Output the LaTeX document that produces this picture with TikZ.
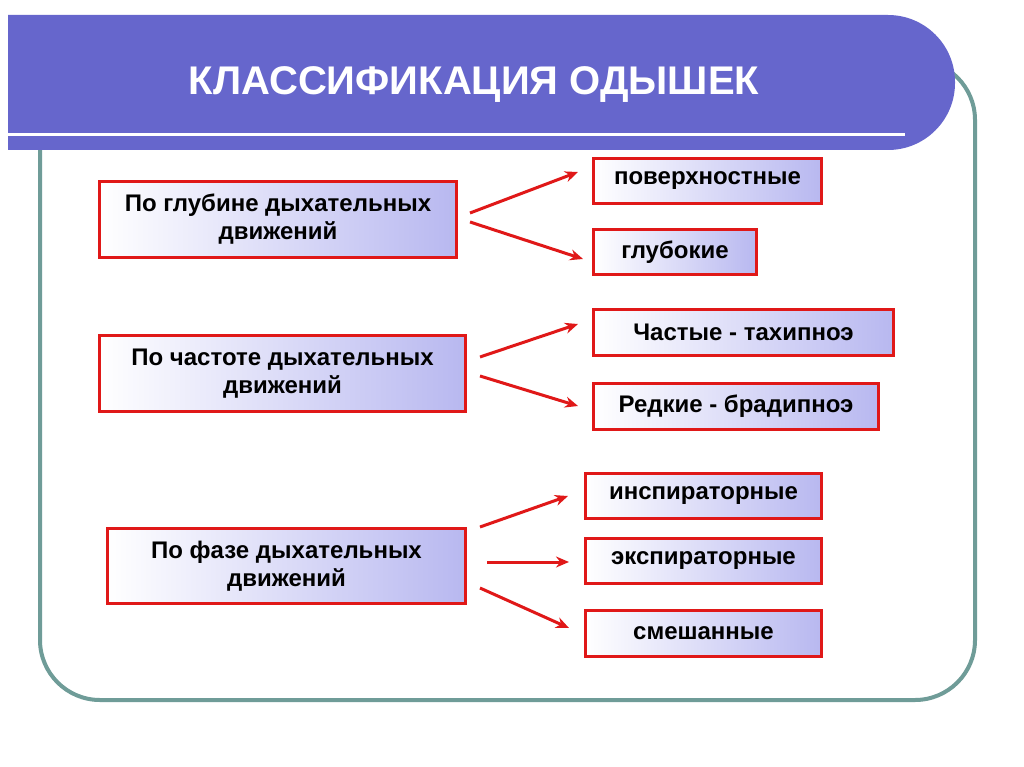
\documentclass[tikz,border=0pt]{standalone}
\usepackage{fontspec}
\setmainfont{Liberation Sans}
\usetikzlibrary{arrows.meta}
\definecolor{bar}{HTML}{6666CC}
\definecolor{frame}{HTML}{6F9C98}
\definecolor{bred}{HTML}{E01818}
\definecolor{lav}{HTML}{B8B8F0}
\begin{document}
\begin{tikzpicture}[x=1pt,y=-1pt,
  lbox/.style={draw=bred,line width=3pt,left color=white,right color=lav,font=\bfseries\fontsize{24}{28}\selectfont,align=center,anchor=north west,inner sep=0},
  arr/.style={draw=bred,line width=3pt,-{Stealth[length=13pt,width=11pt]}}]
\useasboundingbox (0,0) rectangle (1024,767);
\fill[white] (0,0) rectangle (1024,767);
\draw[frame,line width=4pt,rounded corners=60pt] (40,60) rectangle (975,700);
\fill[bar,rounded corners=67pt] (-80,15) rectangle (955,150);
\fill[white] (0,0) rectangle (8,767);
\draw[white,line width=3pt] (8,135) -- (905,135);
\node[white,font=\bfseries\fontsize{40}{46}\selectfont] (title) at (474,85) {КЛАССИФИКАЦИЯ ОДЫШЕК};
% left boxes
\node[lbox,minimum width=357pt,minimum height=76pt] (l1) at (98,180) {По глубине дыхательных\\движений};
\node[lbox,minimum width=366pt,minimum height=76pt] (l2) at (98,334) {По частоте дыхательных\\движений};
\node[lbox,minimum width=358pt,minimum height=75pt] (l3) at (106,527) {По фазе дыхательных\\движений};
% right boxes
\node[lbox,minimum width=228pt,minimum height=45pt] (r1) at (592,157) {поверхностные};
\node[lbox,minimum width=163pt,minimum height=45pt] (r2) at (592,228) {глубокие};
\node[lbox,minimum width=300pt,minimum height=46pt] (r3) at (592,308) {Частые - тахипноэ};
\node[lbox,minimum width=285pt,minimum height=46pt] (r4) at (592,382) {Редкие - брадипноэ};
\node[lbox,minimum width=236pt,minimum height=45pt] (r5) at (584,472) {инспираторные};
\node[lbox,minimum width=236pt,minimum height=45pt] (r6) at (584,537) {экспираторные};
\node[lbox,minimum width=236pt,minimum height=46pt] (r7) at (584,609) {смешанные};
% arrow ends
\coordinate (a1s) at (470,213); \coordinate (a1e) at (578,172);
\coordinate (a2s) at (470,222); \coordinate (a2e) at (583,259);
\coordinate (a3s) at (480,357); \coordinate (a3e) at (578,324);
\coordinate (a4s) at (480,376); \coordinate (a4e) at (578,406);
\coordinate (a5s) at (480,527); \coordinate (a5e) at (568,496);
\coordinate (a6s) at (487,562); \coordinate (a6e) at (569,562);
\coordinate (a7s) at (480,588); \coordinate (a7e) at (569,628);
\foreach \i in {1,...,7}{\draw[arr] (a\i s) -- (a\i e);}
\end{tikzpicture}
\end{document}
